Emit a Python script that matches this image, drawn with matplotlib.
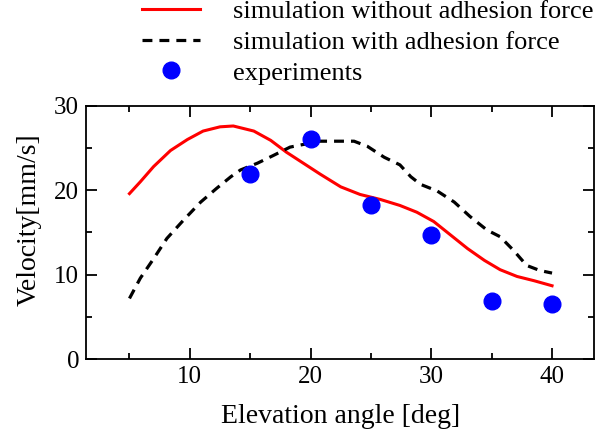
import matplotlib
matplotlib.use("Agg")
import matplotlib.pyplot as plt
from matplotlib.ticker import MultipleLocator

# experiments
exp_angle = [15, 20, 25, 30, 35, 40]
exp_vel = [21.9, 26.1, 18.2, 14.7, 6.9, 6.5]

# simulation without adhesion force
sim_angle = [5.0, 5.9, 7.0, 8.4, 9.8, 11.1, 12.5, 13.6, 15.3, 16.7, 18.0, 19.4,
             20.8, 22.5, 24.1, 25.8, 27.4, 28.8, 30.2, 31.6, 33.0, 34.4, 35.7,
             37.1, 38.5, 40.0]
sim_vel = [19.6, 21.0, 22.8, 24.7, 26.0, 27.0, 27.5, 27.6, 27.0, 25.9, 24.5, 23.2,
           21.9, 20.4, 19.5, 18.9, 18.2, 17.4, 16.3, 14.7, 13.1, 11.7, 10.6,
           9.8, 9.3, 8.7]

# simulation with adhesion force
adh_angle = [5.0, 5.9, 7.0, 8.1, 9.5, 10.9, 12.2, 13.4, 14.2, 15.6, 16.9, 18.3,
             19.7, 20.5, 21.9, 23.6, 24.7, 26.1, 27.4, 28.3, 29.1, 30.5, 31.9,
             33.2, 34.6, 35.7, 36.8, 37.9, 39.0, 40.0]
adh_vel = [7.2, 9.6, 11.9, 14.3, 16.5, 18.6, 20.2, 21.6, 22.4, 23.2, 24.1, 25.1,
           25.5, 25.8, 25.8, 25.8, 25.2, 23.9, 23.0, 21.6, 20.7, 19.9, 18.6,
           16.9, 15.3, 14.5, 12.9, 11.1, 10.5, 10.2]

plt.rcParams['font.family'] = ['Liberation Serif', 'DejaVu Serif']

fig = plt.figure(figsize=(6.06, 4.36), dpi=100)
ax = fig.add_axes([86/606, 1 - 359.3/436, (594.3 - 86)/606, (359.3 - 105.7)/436])

ax.plot(sim_angle, sim_vel, color='red', lw=2.2, solid_joinstyle='round',
        label='simulation without adhesion force')
ax.plot(adh_angle, adh_vel, color='black', lw=2.3, dashes=(3.1, 2.2),
        dash_joinstyle='round', label='simulation with adhesion force')
ax.plot(exp_angle, exp_vel, 'o', color='blue', ms=12, mec='blue', label='experiments')

ax.set_xlim(1.4, 43.5)
ax.set_ylim(0, 30)
ax.xaxis.set_major_locator(MultipleLocator(10))
ax.xaxis.set_minor_locator(MultipleLocator(5))
ax.yaxis.set_major_locator(MultipleLocator(10))
ax.yaxis.set_minor_locator(MultipleLocator(5))
ax.tick_params(which='both', direction='in', top=True, right=True, width=1.3,
               labelsize=18, pad=5)
ax.tick_params(which='major', length=8)
ax.tick_params(which='minor', length=4)
for s in ax.spines.values():
    s.set_linewidth(1.3)

ax.set_xlabel('Elevation angle [deg]', fontsize=20, labelpad=11)
ax.set_ylabel('Velocity[mm/s]', fontsize=20)
ax.yaxis.set_label_coords(-0.087, 0.551)

fig.legend(loc='upper left', bbox_to_anchor=(142/606, 1.0), frameon=False,
           fontsize=19, handlelength=2.2, handletextpad=1.25, labelspacing=0.27,
           borderpad=0, borderaxespad=0, numpoints=1)

fig.savefig('out.png', dpi=100)
